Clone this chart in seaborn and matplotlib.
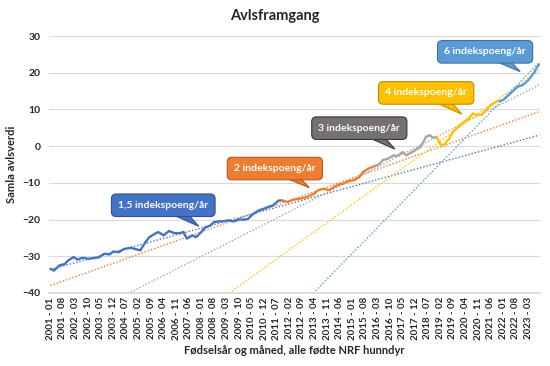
import pandas as pd
import seaborn as sns
import matplotlib.pyplot as plt

# Month index counted from 2001-01
maaned = [0, 2, 5, 8, 10, 13, 15, 18, 21, 24, 27, 30, 33, 35, 38, 41, 45, 47, 50, 53,
          55, 58, 60, 63, 66, 69, 72, 74, 76, 79, 81, 84, 86, 89, 91, 94, 97, 99, 102, 105,
          108, 110, 113, 116, 119, 121, 124, 127, 129, 132, 135, 139, 143, 147, 149, 152, 155, 158, 161, 163,
          166, 169, 172, 174, 177, 180, 183, 185, 188, 191, 193, 196, 198, 202, 206, 209, 211, 213, 215, 217,
          219, 220, 222, 224, 227, 230, 233, 235, 237, 240, 242, 245, 248, 250, 252, 255, 258, 260, 263, 266,
          269, 271, 272]
avlsverdi = [-33.4, -33.9, -32.5, -32.1, -31.1, -30.2, -30.9, -30.4, -30.7, -30.5, -30.3, -29.3, -29.5, -28.7, -28.9, -28.0, -27.7, -28.0, -28.4, -26.1,
             -24.8, -23.9, -23.4, -24.3, -23.1, -23.7, -23.7, -23.4, -25.2, -24.3, -24.8, -23.4, -22.2, -21.6, -20.7, -20.5, -20.4, -20.2, -20.5, -20.0,
             -20.0, -19.8, -18.4, -17.5, -17.0, -16.6, -16.1, -14.8, -14.8, -15.2, -14.6, -14.3, -13.8, -12.9, -12.0, -11.6, -12.0, -11.1, -10.4, -10.2,
             -9.5, -9.3, -8.4, -7.0, -6.1, -5.5, -4.9, -3.8, -3.4, -2.5, -2.7, -1.6, -2.5, -1.4, -0.2, 2.5, 3.0, 2.3, 2.5, 0.5,
             0.3, 1.0, 2.1, 3.9, 5.3, 6.6, 7.6, 8.9, 8.5, 8.5, 9.6, 11.2, 12.1, 12.3, 12.6, 13.9, 15.3, 16.2, 16.7, 18.0,
             19.9, 21.7, 22.3]

# coloured periods of the line
segment_start = [0, 129, 180, 215, 250]
segment_slutt = [129, 180, 215, 250, 272]
linjefarger = ["#4472C4", "#ED7D31", "#A5A5A5", "#FFC000", "#5B9BD5"]

# dotted trend lines: value at first and last month
trend_maaned = [0, 272]
trend_start = [-33.6, -38.0, -50.9, -75.1, -113.2]
trend_slutt = [3.0, 9.4, 16.7, 20.8, 22.8]

# callouts
callout_tekst = ["1,5 indekspoeng/år", "2 indekspoeng/år", "3 indekspoeng/år",
                 "4 indekspoeng/år", "6 indekspoeng/år"]
callout_farge = ["#4472C4", "#ED7D31", "#767171", "#FFC000", "#5B9BD5"]
callout_kant = ["#2F528F", "#AE5A21", "#3B3838", "#BC8C00", "#41719C"]
callout_boks = [(62.8, -16.1), (124.9, -6.1), (171.9, 4.9), (209.1, 14.5), (241.9, 25.7)]
callout_spiss = [(82.5, -21.8), (144.0, -11.3), (191.7, -0.8), (229.0, 8.7), (261.4, 20.3)]

tick_pos = list(range(0, 267, 7))
tick_labels = ["2001 - 01", "2001 - 08", "2002 - 03", "2002 - 10", "2003 - 05", "2003 - 12",
               "2004 - 07", "2005 - 02", "2005 - 09", "2006 - 04", "2006 - 11", "2007 - 06",
               "2008 - 01", "2008 - 08", "2009 - 03", "2009 - 10", "2010 - 05", "2010 - 12",
               "2011 - 07", "2012 - 02", "2012 - 09", "2013 - 04", "2013 - 11", "2014 - 06",
               "2015 - 01", "2015 - 08", "2016 - 03", "2016 - 10", "2017 - 05", "2017 - 12",
               "2018 - 07", "2019 - 02", "2019 - 09", "2020 - 04", "2020 - 11", "2021 - 06",
               "2022 - 01", "2022 - 08", "2023 - 03"]

sns.set_theme(style="white")
plt.rcParams["font.family"] = ["Lato", "DejaVu Sans"]

df = pd.DataFrame({"maaned": maaned, "avlsverdi": avlsverdi})

fig = plt.figure(figsize=(5.5, 3.66), dpi=100)
ax = fig.add_axes([0.089, 0.1995, 0.893, 0.702])

# trend lines
for start, slutt, farge in zip(trend_start, trend_slutt, linjefarger):
    tdf = pd.DataFrame({"maaned": trend_maaned, "verdi": [start, slutt]})
    sns.lineplot(data=tdf, x="maaned", y="verdi", color=farge, linewidth=1.0,
                 linestyle=(0, (1, 1.4)), ax=ax)

# main line, one colour per period
for start, slutt, farge in zip(segment_start, segment_slutt, linjefarger):
    seg = df[(df["maaned"] >= start) & (df["maaned"] <= slutt)]
    sns.lineplot(data=seg, x="maaned", y="avlsverdi", color=farge, linewidth=1.7, ax=ax)

ax.set_xlim(-0.8, 272.5)
ax.set_ylim(-40, 30)

# callouts: rounded box + pointer
for tekst, farge, kant, boks, spiss in zip(callout_tekst, callout_farge, callout_kant,
                                            callout_boks, callout_spiss):
    cx, cy = ax.transData.transform(boks)
    venstre = ax.transData.inverted().transform((cx - 12, cy))
    hoyre = ax.transData.inverted().transform((cx + 17, cy))
    ax.fill([venstre[0], hoyre[0], spiss[0]], [venstre[1], hoyre[1], spiss[1]],
            fc=farge, ec=kant, lw=0.8, zorder=9)
    ax.text(boks[0], boks[1], tekst, ha="center", va="center",
            color="white", fontsize=7.5, fontweight="bold", zorder=10,
            bbox=dict(boxstyle="round,pad=0.65,rounding_size=0.45", fc=farge, ec=kant, lw=0.8))

ax.set_yticks(range(-40, 31, 10))
ax.set_xticks(tick_pos)
ax.set_xticklabels(tick_labels, rotation=90, fontsize=7, fontweight="bold")
ax.tick_params(axis="y", labelsize=7.5, length=0, pad=6)
ax.tick_params(axis="x", length=0, pad=3)
for lab in ax.get_yticklabels():
    lab.set_fontweight("bold")
ax.yaxis.grid(True, color="#D9D9D9", linewidth=0.8)
ax.xaxis.grid(False)
for side in ["top", "right", "left"]:
    ax.spines[side].set_visible(False)
ax.spines["bottom"].set_color("#D9D9D9")

ax.set_xlabel("Fødselsår og måned, alle fødte NRF hunndyr", fontsize=8, fontweight="bold", labelpad=4)
ax.set_ylabel("Samla avlsverdi", fontsize=8, fontweight="bold")
ax.yaxis.set_label_coords(-0.066, 0.5)
fig.text(0.5, 0.955, "Avlsframgang", ha="center", va="center", fontsize=10.5, fontweight="bold")

plt.savefig("out.png", dpi=100)
